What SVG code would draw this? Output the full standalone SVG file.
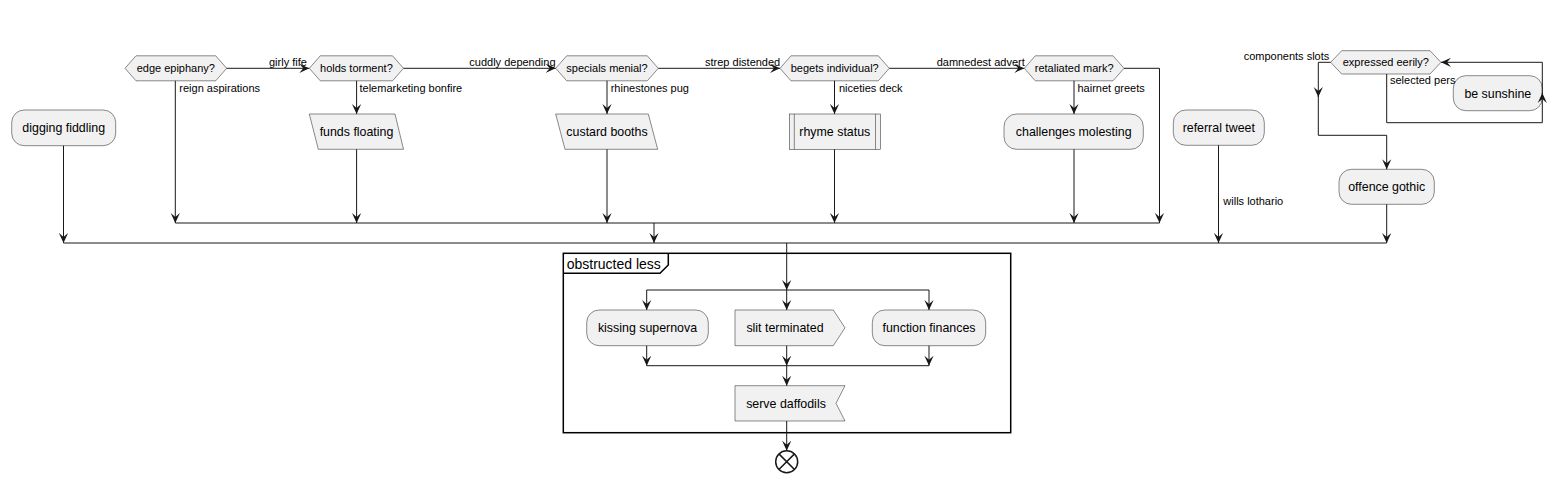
<svg xmlns="http://www.w3.org/2000/svg" width="1567" height="482" viewBox="0 0 1567 482">
<style>
.n{fill:#F1F1F1;stroke:#181818;stroke-width:0.5}
.t{font-family:"Liberation Sans",Arial,sans-serif;font-size:12.4px;fill:#000;text-anchor:middle}
.h{font-family:"Liberation Sans",Arial,sans-serif;font-size:11px;fill:#000;text-anchor:middle}
.l{font-family:"Liberation Sans",Arial,sans-serif;font-size:11px;fill:#000}
.c{fill:none;stroke:#181818;stroke-width:1}
.a{marker-end:url(#ah)}
</style>
<defs>
<marker id="ah" viewBox="0 0 10 10" refX="10" refY="5" markerWidth="10" markerHeight="10" markerUnits="userSpaceOnUse" orient="auto">
<path d="M0,0.4 L10,5 L0,9.6 L4,5 Z" fill="#181818"/>
</marker>
</defs>
<rect width="1567" height="482" fill="#FFFFFF"/>

<g id="frame-obstructed-less">
<rect x="563.3" y="253.3" width="447.4" height="179.4" fill="none" stroke="#000" stroke-width="1.5"/>
<path d="M563.3,273.3 H660 L668.3,265 V253.3" fill="none" stroke="#000" stroke-width="1.5"/>
<text x="566.7" y="268.5" style="font-family:'Liberation Sans',Arial,sans-serif;font-size:14px">obstructed less</text>
</g>

<g id="digging-fiddling"><rect class="n" x="11.7" y="110" width="104" height="35.7" rx="12.5"/><text class="t" x="63.7" y="132.3">digging fiddling</text></g>
<g id="edge-epiphany"><polygon class="n" points="125,68.3 136,55.8 215.7,55.8 226.7,68.3 215.7,80.8 136,80.8"/><text class="h" x="175.8" y="72.3">edge epiphany?</text></g>
<g id="holds-torment"><polygon class="n" points="309.3,68.3 320.3,55.8 392.5,55.8 403.5,68.3 392.5,80.8 320.3,80.8"/><text class="h" x="356.4" y="72.3">holds torment?</text></g>
<g id="funds-floating"><polygon class="n" points="309.3,114 395,114 403.5,149.3 318.3,149.3"/><text class="t" x="356.5" y="136">funds floating</text></g>
<g id="specials-menial"><polygon class="n" points="555.7,68.3 566.7,55.8 647.3,55.8 658.3,68.3 647.3,80.8 566.7,80.8"/><text class="h" x="607" y="72.3">specials menial?</text></g>
<g id="custard-booths"><polygon class="n" points="555.7,114 648.3,114 657.7,149.3 565,149.3"/><text class="t" x="607" y="136">custard booths</text></g>
<g id="begets-individual"><polygon class="n" points="780,68.3 791,55.8 878.3,55.8 889.3,68.3 878.3,80.8 791,80.8"/><text class="h" x="834.7" y="72.3">begets individual?</text></g>
<g id="rhyme-status"><rect class="n" x="789.3" y="114" width="91" height="35.3"/><line x1="794.3" y1="114" x2="794.3" y2="149.3" stroke="#181818" stroke-width="0.5"/><line x1="875.5" y1="114" x2="875.5" y2="149.3" stroke="#181818" stroke-width="0.5"/><text class="t" x="834.8" y="136">rhyme status</text></g>
<g id="retaliated-mark"><polygon class="n" points="1024.3,68.3 1035.3,55.8 1113,55.8 1124,68.3 1113,80.8 1035.3,80.8"/><text class="h" x="1074.2" y="72.3">retaliated mark?</text></g>
<g id="challenges-molesting"><rect class="n" x="1004" y="114" width="139.3" height="35.3" rx="12.5"/><text class="t" x="1073.7" y="136">challenges molesting</text></g>
<g id="referral-tweet"><rect class="n" x="1173.3" y="110" width="91" height="35.3" rx="12.5"/><text class="t" x="1218.8" y="132">referral tweet</text></g>
<g id="expressed-eerily"><polygon class="n" points="1330.7,62.3 1341.7,50.7 1430,50.7 1441,62.3 1430,74 1341.7,74"/><text class="h" x="1385.8" y="66.2">expressed eerily?</text></g>
<g id="be-sunshine"><rect class="n" x="1453.3" y="75.7" width="89" height="35" rx="12.5"/><text class="t" x="1497.8" y="97.5">be sunshine</text></g>
<g id="offence-gothic"><rect class="n" x="1339" y="169.3" width="95.3" height="35" rx="12.5"/><text class="t" x="1386.7" y="191.2">offence gothic</text></g>
<g id="kissing-supernova"><rect class="n" x="586.7" y="310" width="121.6" height="35.7" rx="12.5"/><text class="t" x="647.5" y="332.3">kissing supernova</text></g>
<g id="slit-terminated"><polygon class="n" points="735,310 833.3,310 845,327.8 833.3,345.7 735,345.7"/><text class="t" x="785" y="332.3">slit terminated</text></g>
<g id="function-finances"><rect class="n" x="872.3" y="310" width="113.4" height="35.7" rx="12.5"/><text class="t" x="929" y="332.3">function finances</text></g>
<g id="serve-daffodils"><polygon class="n" points="735,385.7 845,385.7 836,403.3 845,421 735,421"/><text class="t" x="786" y="407.6">serve daffodils</text></g>
<g id="end"><circle cx="786.7" cy="461.7" r="11" fill="#FFFFFF" stroke="#181818" stroke-width="1.5"/><path d="M778.9,453.9 L794.5,469.5 M794.5,453.9 L778.9,469.5" stroke="#181818" stroke-width="1.5"/></g>

<g id="connectors">
<path class="c a" d="M226.7,68.3 H309.3"/>
<path class="c a" d="M403.5,68.3 H555.7"/>
<path class="c a" d="M658.3,68.3 H780"/>
<path class="c a" d="M889.3,68.3 H1024.3"/>
<path class="c a" d="M175.3,80.8 V223"/>
<path class="c a" d="M356.6,80.8 V114"/>
<path class="c a" d="M356.6,149.3 V223"/>
<path class="c a" d="M607,80.8 V114"/>
<path class="c a" d="M607,149.3 V223"/>
<path class="c a" d="M834.5,80.8 V114"/>
<path class="c a" d="M834.5,149.3 V223"/>
<path class="c a" d="M1074,80.8 V114"/>
<path class="c a" d="M1074,149.3 V223"/>
<path class="c a" d="M1124,68.3 H1159.5 V223"/>
<path class="c" d="M175.3,223 H1159.5"/>
<path class="c a" d="M654,223 V243"/>
<path class="c a" d="M63.5,145.7 V243"/>
<path class="c a" d="M1218.5,145.3 V243"/>
<path class="c a" d="M1386.7,204.3 V243"/>
<path class="c" d="M63.5,243 H1386.7"/>
<path class="c a" d="M1330.7,62.3 H1318.3 V97"/>
<path class="c a" d="M1318.3,96 V135.3 H1386.7 V169.3"/>
<path class="c a" d="M1386.7,74 V122.7 H1542.3 V93"/>
<path class="c a" d="M1542.3,94 V62.3 H1441"/>
<path class="c a" d="M786.7,243 V290"/>
<path class="c" d="M646.7,290 H929"/>
<path class="c a" d="M646.7,290 V310"/>
<path class="c a" d="M786.7,290 V310"/>
<path class="c a" d="M929,290 V310"/>
<path class="c a" d="M646.7,345.7 V365.7"/>
<path class="c a" d="M786.7,345.7 V365.7"/>
<path class="c a" d="M929,345.7 V365.7"/>
<path class="c" d="M646.7,365.7 H929"/>
<path class="c a" d="M786.7,365.7 V385.7"/>
<path class="c a" d="M786.7,421 V450.7"/>
<text class="l" x="269" y="66">girly fife</text>
<text class="l" x="469.3" y="66">cuddly depending</text>
<text class="l" x="705" y="66">strep distended</text>
<text class="l" x="936.7" y="66">damnedest advert</text>
<text class="l" x="179.3" y="92">reign aspirations</text>
<text class="l" x="359.5" y="92">telemarketing bonfire</text>
<text class="l" x="610.7" y="92">rhinestones pug</text>
<text class="l" x="839" y="92">niceties deck</text>
<text class="l" x="1077.5" y="92">hairnet greets</text>
<text class="l" x="1223.3" y="205">wills lothario</text>
<text class="l" x="1329.3" y="59.5" text-anchor="end">components slots</text>
<text class="l" x="1390" y="84">selected pers</text>
</g>
</svg>
